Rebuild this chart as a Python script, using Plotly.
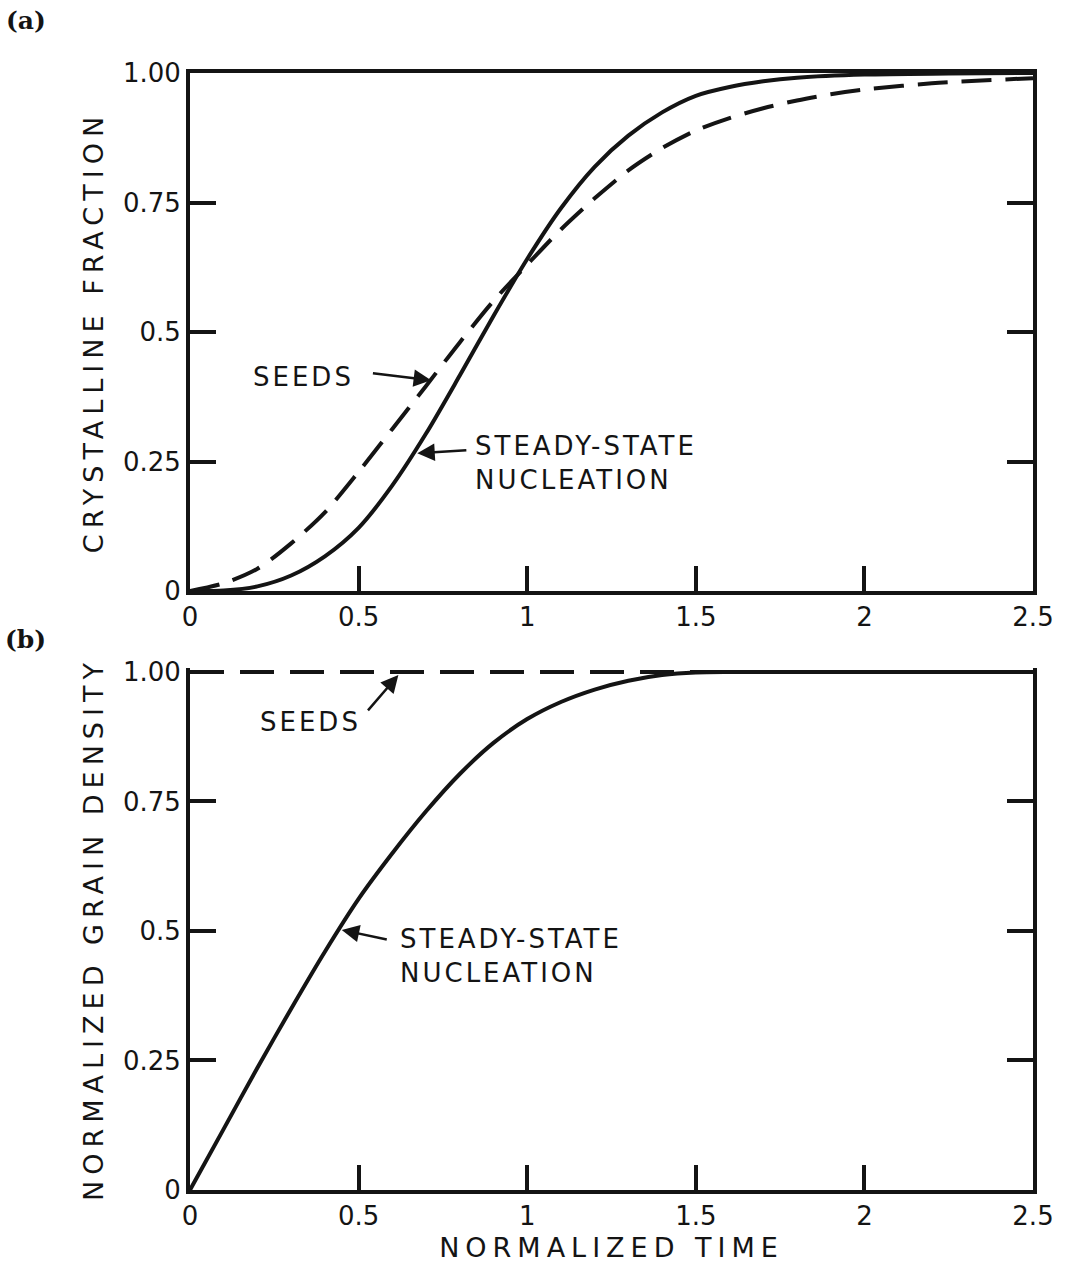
import plotly.graph_objects as go

# ---- panel (a): crystalline fraction vs normalized time ----
time_a_nucleation = [0.0, 0.1, 0.2, 0.3, 0.4, 0.5, 0.6, 0.7, 0.8, 0.9, 1.0, 1.1, 1.2,
                     1.3, 1.4, 1.5, 1.6, 1.7, 1.8, 2.0, 2.25, 2.5]
frac_nucleation = [0.0, 0.001, 0.009, 0.030, 0.067, 0.122, 0.204, 0.304, 0.416, 0.531,
                   0.641, 0.739, 0.819, 0.879, 0.924, 0.956, 0.973, 0.984, 0.991,
                   0.997, 0.999, 1.0]

time_a_seeds = [0.0, 0.1, 0.2, 0.3, 0.4, 0.5, 0.6, 0.7, 0.8, 0.9, 1.0, 1.1, 1.2, 1.3,
                1.4, 1.5, 1.6, 1.7, 1.8, 1.9, 2.0, 2.2, 2.5]
frac_seeds = [0.0, 0.015, 0.043, 0.092, 0.152, 0.230, 0.313, 0.396, 0.480, 0.560, 0.630,
              0.698, 0.758, 0.812, 0.855, 0.889, 0.913, 0.932, 0.947, 0.959, 0.968,
              0.980, 0.990]

# ---- panel (b): normalized grain density vs normalized time ----
time_b_nucleation = [0.0, 0.1, 0.2, 0.3, 0.4, 0.5, 0.6, 0.7, 0.8, 0.9, 1.0, 1.1, 1.2,
                     1.3, 1.4, 1.5, 1.6, 2.0, 2.5]
density_nucleation = [0.0, 0.118, 0.236, 0.350, 0.460, 0.562, 0.650, 0.731, 0.803,
                      0.863, 0.909, 0.942, 0.966, 0.983, 0.994, 0.999, 1.0, 1.0, 1.0]

time_b_seeds = [0.0, 2.5]
density_seeds = [1.0, 1.0]

x_tick_vals = [0, 0.5, 1, 1.5, 2, 2.5]
x_tick_text = ["0", "0.5", "1", "1.5", "2", "2.5"]
y_tick_vals = [0, 0.25, 0.5, 0.75, 1.0]
y_tick_text = ["0", "0.25", "0.5", "0.75", "1.00"]

INK = "#141414"
FONT = "DejaVu Sans"

# panel (b) has no top frame, so give it a little headroom above 1.0
# so the curves lying on y = 1 are not clipped
Y_TOP_B = 1.0077


def spaced(text, px):
    return f"<span style='letter-spacing:{px}px'>{text}</span>"


fig = go.Figure()

line_solid = dict(color=INK, width=4, shape="spline", smoothing=0.8)
line_dash_a = dict(color=INK, width=4, shape="spline", smoothing=0.8, dash="30px,14px")
line_dash_b = dict(color=INK, width=4, dash="34px,16px")

fig.add_trace(go.Scatter(x=time_a_nucleation, y=frac_nucleation, mode="lines",
                         line=line_solid, xaxis="x", yaxis="y", hoverinfo="skip"))
fig.add_trace(go.Scatter(x=time_a_seeds, y=frac_seeds, mode="lines",
                         line=line_dash_a, xaxis="x", yaxis="y", hoverinfo="skip"))
fig.add_trace(go.Scatter(x=time_b_seeds, y=density_seeds, mode="lines",
                         line=line_dash_b, xaxis="x2", yaxis="y2", hoverinfo="skip"))
fig.add_trace(go.Scatter(x=time_b_nucleation, y=density_nucleation, mode="lines",
                         line=line_solid, xaxis="x2", yaxis="y2", hoverinfo="skip"))

tick_font = dict(family=FONT, size=26, color=INK)
title_font = dict(family=FONT, size=27, color=INK)

common_x = dict(range=[0, 2.5], tickvals=x_tick_vals, ticktext=x_tick_text,
                ticks="inside", ticklen=25, tickwidth=4, tickcolor=INK,
                showline=True, linewidth=4, linecolor=INK, showgrid=False,
                zeroline=False, tickfont=tick_font)
common_y = dict(tickvals=y_tick_vals, ticktext=y_tick_text,
                ticks="inside", ticklen=26, tickwidth=4, tickcolor=INK,
                showline=True, linewidth=4, linecolor=INK, showgrid=False,
                zeroline=False, tickfont=tick_font, mirror="ticks")

fig.update_layout(
    width=1066, height=1272,
    margin=dict(l=190, r=23, t=69, b=82),
    paper_bgcolor="white", plot_bgcolor="white",
    showlegend=False,
    xaxis=dict(common_x, anchor="y", mirror=True, domain=[0, 1]),
    yaxis=dict(common_y, range=[0, 1.0], anchor="x", domain=[0.5343, 0.99643],
               title=dict(text=spaced("CRYSTALLINE FRACTION", 6), font=title_font,
                          standoff=12)),
    xaxis2=dict(common_x, anchor="y2", domain=[0, 1],
                title=dict(text=spaced("NORMALIZED TIME", 6), font=title_font,
                           standoff=9)),
    yaxis2=dict(common_y, range=[0, Y_TOP_B], anchor="x2", domain=[0.0, 0.4657],
                title=dict(text=spaced("NORMALIZED GRAIN DENSITY", 6), font=title_font,
                           standoff=12)),
)

label_font = dict(family=FONT, size=26, color=INK)
annotations = []


def label(text, x, y, xref, yref, xanchor="center", spacing=3):
    annotations.append(dict(text=spaced(text, spacing), x=x, y=y, xref=xref, yref=yref,
                            xanchor=xanchor, yanchor="middle", showarrow=False,
                            font=label_font, align="left"))


def pointer(x_tail, y_tail, x_head, y_head, xref, yref):
    annotations.append(dict(text="", x=x_head, y=y_head, ax=x_tail, ay=y_tail,
                            xref=xref, yref=yref, axref=xref, ayref=yref,
                            showarrow=True, arrowhead=2, arrowsize=1.4,
                            arrowwidth=2.5, arrowcolor=INK))


# panel (a) labels
label("SEEDS", 0.338, 0.413, "x", "y")
pointer(0.538, 0.421, 0.715, 0.407, "x", "y")
label("STEADY-STATE<br>NUCLEATION", 0.838, 0.247, "x", "y", xanchor="left")
pointer(0.824, 0.272, 0.674, 0.266, "x", "y")

# panel (b) labels
label("SEEDS", 0.356, 0.903, "x2", "y2")
pointer(0.524, 0.923, 0.618, 0.994, "x2", "y2")
label("STEADY-STATE<br>NUCLEATION", 0.618, 0.452, "x2", "y2", xanchor="left")
pointer(0.588, 0.483, 0.45, 0.502, "x2", "y2")

# panel letters
letter_font = dict(family="DejaVu Serif", size=25, color=INK, weight="bold")
annotations.append(dict(text="(a)", x=-0.195, y=1.0437, xref="paper", yref="paper",
                        xanchor="center", yanchor="middle", showarrow=False,
                        font=letter_font))
annotations.append(dict(text="(b)", x=-0.195, y=0.491, xref="paper", yref="paper",
                        xanchor="center", yanchor="middle", showarrow=False,
                        font=letter_font))

fig.update_layout(annotations=annotations)

fig.write_html("out.html")
